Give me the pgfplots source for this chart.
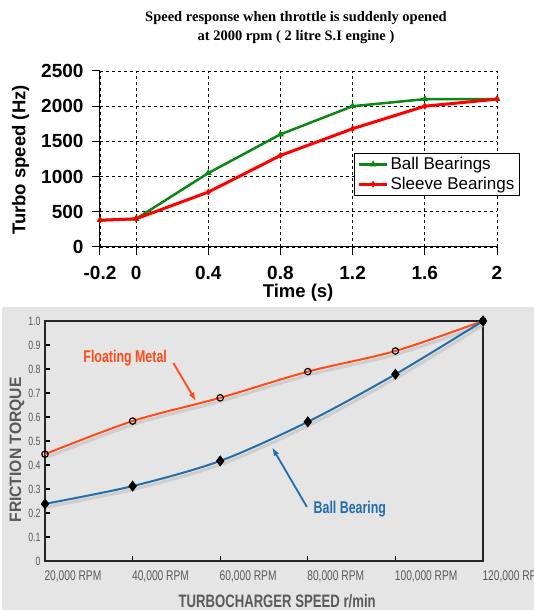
\documentclass[border=0pt]{standalone}
\usepackage{pgfplots}
\pgfplotsset{compat=1.18}
\usetikzlibrary{arrows.meta}
\usepackage{fontspec}
\setmainfont{Liberation Sans}
\newfontfamily\titlefont{Liberation Serif}
\newfontfamily\narrow[FakeStretch=0.73]{Liberation Sans}
\newfontfamily\ylabfont[FakeStretch=0.95]{Liberation Sans}

\definecolor{ballgreen}{RGB}{10,135,20}
\definecolor{sleevered}{RGB}{255,0,0}
\definecolor{panelgray}{RGB}{229,229,229}
\definecolor{floatorange}{RGB}{255,75,25}
\definecolor{ballblue}{RGB}{35,110,170}
\definecolor{ticktext}{RGB}{90,90,90}

\begin{document}
\begin{tikzpicture}[x=1pt,y=1pt]
\useasboundingbox (0,0) rectangle (534,610);
% grey panel of the lower chart
\fill[panelgray] (2,0) rectangle (534,303);

% title of the upper chart
\node[align=center, font=\titlefont\bfseries\fontsize{14.5}{19}\selectfont] at (296,582)
  {Speed response when throttle is suddenly opened\\at 2000 rpm ( 2 litre S.I engine )};

%% upper chart: turbo speed
\begin{axis}[
  at={(100pt,363pt)}, anchor=south west, scale only axis,
  width=397pt, height=176pt,
  xmin=-0.2, xmax=2, ymin=0, ymax=2500,
  axis x line*=bottom, axis y line*=left,
  axis line style={black, line width=1pt, -},
  xtick={-0.2,0,0.4,0.8,1.2,1.6,2},
  xticklabels={-0.2,0,0.4,0.8,1.2,1.6,2},
  ytick={0,500,1000,1500,2000,2500},
  yticklabels={0,500,1000,1500,2000,2500},
  tick align=outside, major tick length=8pt,
  tick style={black, line width=1pt},
  grid=major, grid style={black, dashed, line width=0.8pt},
  ticklabel style={font=\bfseries\fontsize{19}{19}\selectfont},
  xticklabel style={yshift=-8pt},
  yticklabel style={xshift=-5pt},
  xlabel={Time (s)}, ylabel={Turbo speed (Hz)},
  label style={font=\bfseries\fontsize{18.5}{18.5}\selectfont},
  xlabel style={at={(rel axis cs:0.499,-0.261)}, anchor=center},
  ylabel style={at={(rel axis cs:-0.2,0.494)}, anchor=center},
  legend style={at={(rel axis cs:0.640,0.534)}, anchor=north west,
    draw=black, line width=1pt, fill=white,
    font=\fontsize{17}{17}\selectfont, row sep=2pt,
    inner xsep=3pt, inner ysep=2pt, cells={anchor=west}},
  legend image code/.code={\draw[#1, mark repeat=2, mark phase=2]
    plot coordinates {(0pt,0pt) (14pt,0pt) (28pt,0pt)};},
  clip=false,
]
\addplot[ballgreen, line width=2.5pt, mark=triangle*, mark size=3.5pt,
  mark options={solid, line width=0.5pt}]
  coordinates {(-0.2,380) (0,400) (0.4,1050) (0.8,1600) (1.2,2000) (1.6,2100) (2,2100)};
\addlegendentry{Ball Bearings}
\addplot[sleevered, line width=3pt, mark=diamond*, mark size=3pt,
  mark options={solid, line width=0.5pt}]
  coordinates {(-0.2,380) (0,400) (0.4,780) (0.8,1300) (1.2,1680) (1.6,2000) (2,2100)};
\addlegendentry{Sleeve Bearings}
\end{axis}

%% lower chart: friction torque
\begin{axis}[
  at={(45pt,49pt)}, anchor=south west, scale only axis,
  width=438pt, height=240pt,
  xmin=20000, xmax=120000, ymin=0, ymax=1,
  scaled x ticks=false, scaled y ticks=false,
  axis background/.style={fill=panelgray},
  axis line style={black!85, line width=1.5pt},
  xtick={20000,40000,60000,80000,100000,120000},
  xticklabels={{20,000 RPM},{40,000 RPM},{60,000 RPM},{80,000 RPM},{100,000 RPM},{120,000 RPM}},
  ytick={0,0.1,0.2,0.3,0.4,0.5,0.6,0.7,0.8,0.9,1},
  yticklabels={0,0.1,0.2,0.3,0.4,0.5,0.6,0.7,0.8,0.9,1.0},
  tick align=inside, major tick length=5pt,
  tick style={black, line width=1.2pt},
  xtick pos=bottom, ytick pos=left,
  xticklabel style={font=\narrow\fontsize{14}{14}\selectfont, text=ticktext,
    anchor=north west, xshift=-4pt, yshift=-6pt},
  yticklabel style={font=\narrow\fontsize{12}{12}\selectfont, text=ticktext, xshift=-1pt},
  xlabel={TURBOCHARGER SPEED r/min}, ylabel={FRICTION TORQUE},
  xlabel style={font=\narrow\bfseries\fontsize{18}{18}\selectfont, text=ticktext,
    at={(rel axis cs:0.53,-0.168)}, anchor=center},
  ylabel style={font=\ylabfont\bfseries\fontsize{16.5}{16.5}\selectfont, text=ticktext,
    at={(rel axis cs:-0.064,0.4625)}, anchor=center},
  clip=false,
]
% soft shadows under the curves
\addplot[black!25, line width=3pt, smooth, xshift=2pt, yshift=-3pt, opacity=0.6]
  coordinates {(20000,0.445) (40000,0.583) (60000,0.68) (80000,0.789) (100000,0.875) (120000,1.0)};
\addplot[black!25, line width=3pt, smooth, xshift=2pt, yshift=-3pt, opacity=0.6]
  coordinates {(20000,0.238) (40000,0.312) (60000,0.417) (80000,0.58) (100000,0.778) (120000,1.0)};
% floating metal
\addplot[floatorange, line width=2pt, smooth, mark=o, mark size=3.2pt,
  mark options={black, line width=1.2pt, fill=panelgray}]
  coordinates {(20000,0.445) (40000,0.583) (60000,0.68) (80000,0.789) (100000,0.875) (120000,1.0)};
% ball bearing
\addplot[ballblue, line width=2pt, smooth, mark=diamond*, mark size=4pt,
  mark options={black}]
  coordinates {(20000,0.238) (40000,0.312) (60000,0.417) (80000,0.58) (100000,0.778) (120000,1.0)};

% annotations
\node[font=\narrow\bfseries\fontsize{17}{17}\selectfont, text=floatorange]
  at (axis cs:38300,0.846) {Floating Metal};
\draw[floatorange, line width=1.8pt, -{Latex[length=9pt,width=6pt]}]
  (axis cs:49300,0.825) -- (axis cs:54500,0.665);
\node[font=\narrow\bfseries\fontsize{17}{17}\selectfont, text=ballblue]
  at (axis cs:89600,0.217) {Ball Bearing};
\draw[ballblue, line width=1.8pt, -{Latex[length=9pt,width=6pt]}]
  (axis cs:79800,0.225) -- (axis cs:71800,0.475);
\end{axis}
\end{tikzpicture}
\end{document}
